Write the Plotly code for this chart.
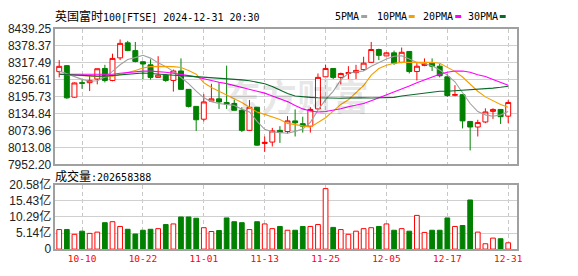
import plotly.graph_objects as go

dates = [
    "2024-10-07", "2024-10-08", "2024-10-09", "2024-10-10", "2024-10-11",
    "2024-10-14", "2024-10-15", "2024-10-16", "2024-10-17", "2024-10-18",
    "2024-10-21", "2024-10-22", "2024-10-23", "2024-10-24", "2024-10-25",
    "2024-10-28", "2024-10-29", "2024-10-30", "2024-10-31",
    "2024-11-01", "2024-11-04", "2024-11-05", "2024-11-06", "2024-11-07",
    "2024-11-08", "2024-11-11", "2024-11-12", "2024-11-13", "2024-11-14",
    "2024-11-15", "2024-11-18", "2024-11-19", "2024-11-20", "2024-11-21",
    "2024-11-22", "2024-11-25", "2024-11-26", "2024-11-27", "2024-11-28",
    "2024-11-29",
    "2024-12-02", "2024-12-03", "2024-12-04", "2024-12-05", "2024-12-06",
    "2024-12-09", "2024-12-10", "2024-12-11", "2024-12-12", "2024-12-13",
    "2024-12-16", "2024-12-17", "2024-12-18", "2024-12-19", "2024-12-20",
    "2024-12-23", "2024-12-24", "2024-12-27", "2024-12-30", "2024-12-31",
]

open_ = [8284.6, 8306, 8193, 8245, 8245, 8258, 8296, 8253, 8334, 8388,
         8360, 8320, 8309, 8264, 8272, 8253, 8287, 8221, 8160, 8114,
         8179, 8187, 8174, 8170, 8146, 8074, 8157, 8027, 8032, 8074,
         8070, 8108, 8098, 8089, 8151, 8266, 8296, 8264, 8278, 8281,
         8292, 8318, 8364, 8341, 8352, 8318, 8357, 8285, 8307, 8315,
         8304, 8266, 8200, 8202, 8106, 8086, 8104, 8142, 8149, 8125]
high = [8326, 8308, 8246, 8255, 8270, 8296, 8309, 8349, 8400, 8395,
        8391, 8322, 8329, 8340, 8275, 8292, 8332, 8222, 8161, 8204,
        8241, 8247, 8306, 8185, 8157, 8183, 8158, 8052, 8083, 8089,
        8125, 8149, 8123, 8157, 8278, 8309, 8297, 8281, 8304, 8309,
        8338, 8391, 8367, 8354, 8360, 8371, 8358, 8315, 8332, 8332,
        8312, 8275, 8236, 8204, 8107, 8112, 8153, 8153, 8150, 8182]
low = [8264, 8187, 8191, 8223, 8215, 8239, 8246, 8250, 8326, 8358,
       8318, 8258, 8256, 8263, 8248, 8213, 8219, 8156, 8072, 8106,
       8176, 8151, 8151, 8145, 8068, 8073, 8018, 7997, 8016, 8029,
       8062, 8052, 8066, 8066, 8149, 8265, 8258, 8239, 8258, 8258,
       8288, 8316, 8326, 8340, 8309, 8315, 8278, 8253, 8304, 8287,
       8264, 8194, 8196, 8081, 8002, 8052, 8100, 8115, 8097, 8100]
close = [8303.6, 8190.6, 8244, 8243, 8253, 8295, 8253, 8332, 8386, 8360,
         8321, 8312, 8264, 8272, 8253, 8287, 8221, 8160, 8112, 8176,
         8187, 8176, 8168, 8146, 8074, 8157, 8021, 8031, 8072, 8066,
         8108, 8101, 8089, 8149, 8264, 8296, 8264, 8278, 8281, 8289,
         8315, 8364, 8343, 8352, 8315, 8354, 8285, 8304, 8312, 8304,
         8270, 8199, 8202, 8108, 8086, 8102, 8140, 8149, 8123, 8174]

ma5 = [8286.6, 8277.1, 8265.3, 8256.8, 8250.0, 8251.7, 8265.3, 8285.6, 8309.4, 8328.0,
       8334.8, 8343.3, 8333.1, 8316.1, 8302.6, 8285.6, 8263.6, 8241.5, 8214.4, 8190.6,
       8177.1, 8170.3, 8166.9, 8163.5, 8150.0, 8139.8, 8105.9, 8077.7, 8068.5, 8066.2,
       8063.5, 8070.3, 8078.7, 8102.5, 8146.6, 8184.0, 8214.0, 8255.0, 8278.8, 8283.9,
       8286.6, 8303.6, 8317.8, 8329.7, 8339.9, 8341.6, 8329.7, 8317.8, 8312.7, 8306.0,
       8290.7, 8272.0, 8248.3, 8207.6, 8170.3, 8141.5, 8129.6, 8124.5, 8129.6, 8141.5]
ma10 = [8275.4, 8273.7, 8270.4, 8268.6, 8267.0, 8265.3, 8265.3, 8267.0, 8273.7, 8282.2,
        8289.0, 8297.5, 8302.6, 8303.6, 8303.6, 8302.6, 8299.2, 8289.0, 8275.4, 8244.9,
        8228.0, 8214.4, 8202.5, 8187.3, 8173.7, 8156.7, 8139.8, 8131.3, 8122.8, 8112.6,
        8099.0, 8094.7, 8090.6, 8085.5, 8102.5, 8119.4, 8143.2, 8166.9, 8183.9, 8207.6,
        8234.8, 8272.0, 8295.8, 8307.7, 8314.4, 8317.8, 8318.5, 8318.5, 8318.5, 8318.5,
        8314.4, 8299.2, 8285.6, 8265.3, 8238.1, 8214.4, 8194.0, 8180.5, 8166.9, 8156.7]
ma20 = [8275.4, 8275.4, 8274.4, 8273.7, 8273.7, 8273.7, 8273.7, 8275.4, 8278.8, 8282.2,
        8285.6, 8286.6, 8286.6, 8285.6, 8282.2, 8278.8, 8275.4, 8270.4, 8265.3, 8258.5,
        8251.7, 8246.6, 8241.5, 8234.8, 8228.0, 8221.2, 8214.4, 8207.6, 8197.4, 8187.3,
        8177.1, 8163.5, 8151.0, 8143.2, 8139.8, 8141.5, 8145.6, 8151.7, 8158.4, 8163.5,
        8170.3, 8180.5, 8190.6, 8200.8, 8212.7, 8221.2, 8233.1, 8244.9, 8255.1, 8265.3,
        8275.4, 8282.2, 8286.6, 8286.6, 8282.2, 8273.7, 8267.0, 8256.8, 8246.6, 8235.8]
ma30 = [8275.4, 8273.7, 8272.0, 8271.0, 8269.7, 8268.6, 8268.6, 8271.0, 8273.1, 8275.4,
        8277.8, 8279.5, 8277.8, 8275.4, 8273.1, 8271.0, 8269.7, 8268.6, 8267.0, 8265.3,
        8263.6, 8261.9, 8260.9, 8258.5, 8255.1, 8251.7, 8246.6, 8241.5, 8231.4, 8217.8,
        8205.9, 8197.4, 8194.0, 8192.3, 8191.0, 8190.0, 8189.0, 8189.0, 8190.0, 8191.0,
        8191.0, 8190.0, 8190.0, 8191.0, 8192.3, 8197.4, 8200.8, 8204.2, 8209.3, 8212.7,
        8214.4, 8214.4, 8216.1, 8217.8, 8218.8, 8221.2, 8222.9, 8225.6, 8228.6, 8232.4]

# volume in 亿 (1e8)
volume_yi = [6.26, 6.30, 4.74, 5.75, 5.04, 5.45, 8.47, 8.78, 7.26, 6.36,
             4.84, 6.05, 6.36, 6.56, 7.87, 8.07, 10.29, 10.29, 9.89, 6.86,
             5.65, 5.95, 9.99, 8.78, 8.47, 6.26, 8.78, 8.07, 6.56, 7.26,
             6.05, 6.05, 7.26, 7.26, 7.87, 19.37, 6.96, 6.26, 4.74, 5.75,
             6.56, 6.86, 7.26, 8.07, 6.05, 6.56, 5.75, 10.80, 5.35, 6.05,
             6.05, 9.99, 7.26, 7.56, 15.74, 5.45, 1.72, 3.53, 3.33, 2.03]

x_labels = ["10-10", "10-22", "11-01", "11-13", "11-25", "12-05", "12-17", "12-31"]
price_ticks = [7952.20, 8013.08, 8073.96, 8134.84, 8195.73, 8256.61, 8317.49, 8378.37, 8439.25]
vol_ticks_yi = [0, 5.145, 10.29, 15.435, 20.58]
vol_tick_text = ["0", "5.14亿", "10.29亿", "15.43亿", "20.58亿"]
legend_names = ["5PMA", "10PMA", "20PMA", "30PMA"]
legend_colors = ["#a0a0a0", "#f5a000", "#ff00ff", "#0a6a2a"]

W, H = 578, 276
RED, GREEN = "#ff0000", "#008000"

idx = list(range(len(dates)))
tickpos = [dates.index("2024-" + s) for s in x_labels]
xr = [-0.5, 60.1]

fig = go.Figure()
fig.add_trace(go.Candlestick(
    x=idx, open=open_, high=high, low=low, close=close,
    increasing=dict(line=dict(color=RED, width=1), fillcolor="#ffffff"),
    decreasing=dict(line=dict(color=GREEN, width=1), fillcolor=GREEN),
    xaxis="x", yaxis="y", showlegend=False, hoverinfo="skip"))
for vals, col in zip([ma5, ma10, ma20, ma30], legend_colors):
    fig.add_trace(go.Scatter(x=idx, y=vals, mode="lines",
                             line=dict(color=col, width=1.1),
                             xaxis="x", yaxis="y", showlegend=False, hoverinfo="skip"))

up = [c >= o for o, c in zip(open_, close)]
fig.add_trace(go.Bar(
    x=idx, y=[v * 1e8 for v in volume_yi], width=0.62,
    marker=dict(color=["#ffffff" if u else GREEN for u in up],
                line=dict(color=[RED if u else GREEN for u in up], width=1)),
    xaxis="x2", yaxis="y2", showlegend=False, hoverinfo="skip"))

xdom = [56 / W, 522 / W]
frame = dict(showline=True, mirror=True, linecolor="#a0a0a0", linewidth=1.5, zeroline=False, fixedrange=True)

fig.update_layout(
    width=W, height=H, margin=dict(l=0, r=0, t=0, b=0),
    paper_bgcolor="#ffffff", plot_bgcolor="#ffffff", showlegend=False,
    boxgap=0.35, boxgroupgap=0, bargap=0.3,
    xaxis=dict(domain=xdom, range=xr, tickvals=tickpos, showticklabels=False, ticks="",
               showgrid=True, gridcolor="#c8c8c8", griddash="4px,3px", gridwidth=1,
               rangeslider=dict(visible=False), anchor="y", **frame),
    yaxis=dict(domain=[1 - 165.3 / H, 1 - 21.7 / H], range=[price_ticks[0], price_ticks[-1]],
               tickvals=price_ticks, ticktext=[f"{v:.2f}" for v in price_ticks], ticks="",
               showgrid=True, gridcolor="#d0d0d0", gridwidth=1,
               tickfont=dict(family="Liberation Sans, Arial", size=12, color="#222222"),
               anchor="x", **frame),
    xaxis2=dict(domain=xdom, range=xr, tickvals=tickpos, ticktext=x_labels, ticks="",
                showgrid=True, gridcolor="#c8c8c8", griddash="4px,3px", gridwidth=1,
                tickfont=dict(family="DejaVu Sans Mono", size=9.5, color=RED),
                anchor="y2", **frame),
    yaxis2=dict(domain=[1 - 255 / H, 1 - 187 / H], range=[0, 20.58e8],
                tickvals=[v * 1e8 for v in vol_ticks_yi], ticktext=vol_tick_text, ticks="",
                showgrid=True, gridcolor="#d0d0d0", gridwidth=1,
                tickfont=dict(family="Liberation Sans, Noto Sans CJK SC", size=12, color="#222222"),
                anchor="x2", **frame),
)

mono = "DejaVu Sans Mono, Noto Sans CJK SC"
ann = [
    dict(text='<span style="font-size:12px">英国富时</span>100[FTSE] 2024-12-31 20:30',
         x=55 / W, y=1 - 9 / H, xanchor="left", yanchor="middle",
         font=dict(family=mono, size=10, color="#000000")),
    dict(text='<span style="font-size:12px">成交量</span>:202658388',
         x=55 / W, y=1 - 178 / H, xanchor="left", yanchor="middle",
         font=dict(family=mono, size=10, color="#000000")),
    dict(text="东方财富", x=300 / W, y=1 - 92 / H, xanchor="center", yanchor="middle",
         font=dict(family="Noto Sans CJK SC", size=36, color="rgba(0,0,0,0.1)", weight="bold")),
]
shapes = []
lab_x = [338, 380, 426, 472]
sw_x = [365, 413, 460, 505]
for name, col, lx, sx in zip(legend_names, legend_colors, lab_x, sw_x):
    ann.append(dict(text=name, x=lx / W, y=1 - 9 / H, xanchor="left", yanchor="middle",
                    font=dict(family=mono, size=10, color="#000000")))
    shapes.append(dict(type="line", xref="paper", yref="paper", x0=sx / W, x1=(sx + 6) / W,
                       y0=1 - 9 / H, y1=1 - 9 / H, line=dict(color=col, width=3)))
for a in ann:
    a.update(xref="paper", yref="paper", showarrow=False, borderpad=0)
fig.update_layout(annotations=ann, shapes=shapes)

fig.write_html("out.html")
